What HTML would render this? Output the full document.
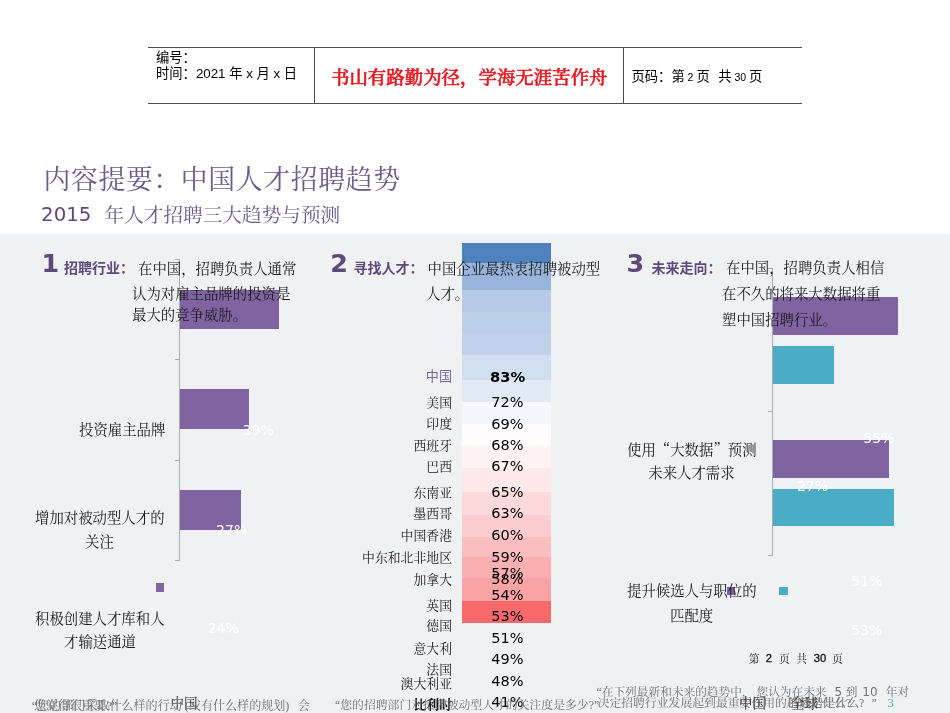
<!DOCTYPE html>
<html lang="zh-CN">
<head>
<meta charset="utf-8">
<title>内容提要：中国人才招聘趋势</title>
<style>
html,body{margin:0;padding:0;background:#fff;}
body{width:950px;height:713px;position:relative;overflow:hidden;
  font-family:"Liberation Sans","Noto Sans CJK SC",sans-serif;color:#000;}
.a{position:absolute;white-space:nowrap;line-height:1;}
.serif{font-family:"Liberation Serif","Noto Serif CJK SC",serif;}
.sans{font-family:"Liberation Sans","Noto Sans CJK SC",sans-serif;}
.dv{font-family:"DejaVu Sans","Noto Sans CJK SC",sans-serif;}
.pur{color:#5f497a;}
.hl{background:#4d4d4d;height:1px;}
.vl{background:#4d4d4d;width:1px;}
#bg{left:0;top:232px;width:950px;height:481px;background:linear-gradient(#fff 0,#f0f1f3 4px);}
.bar{position:absolute;background:#8064a2;}
.teal{background:#4bacc6;}
.ax{position:absolute;background:#adadad;}
.lab{font-size:14.4px;color:#1a1a1a;}
.pct{font-size:14.1px;color:#fff;}
.num{font-size:14.5px;color:#000;}
.cty{font-size:12.85px;color:#222;text-align:right;width:120px;left:332px;}
.cjq{font-family:"Noto Serif CJK SC",serif;}
.pg{top:653.5px;font-size:10.8px;color:#222;}
.pgn{top:652.6px;font-size:11.2px;color:#111;-webkit-text-stroke:0.3px #111;}
.foot{font-size:11.3px;color:#707070;}
</style>
</head>
<body>
<!-- header table -->
<div class="a hl" style="left:148px;top:47px;width:654px;"></div>
<div class="a hl" style="left:148px;top:103px;width:654px;"></div>
<div class="a vl" style="left:314px;top:47px;height:57px;"></div>
<div class="a vl" style="left:623px;top:47px;height:57px;"></div>
<div class="a sans" style="left:156px;top:50px;font-size:13.3px;line-height:16px;">编号：</div>
<div class="a sans" style="left:156px;top:66px;font-size:13.3px;line-height:16px;">时间：2021 年 x 月 x 日</div>
<div class="a serif" style="left:331px;top:69px;font-size:18.45px;font-weight:500;-webkit-text-stroke:0.55px #e8141c;color:#e8141c;">书山有路勤为径，学海无涯苦作舟</div>
<div class="a sans" style="left:631.5px;top:70px;font-size:13.3px;">页码：第<span style="font-size:10.5px;"> 2 </span>页<span style="margin-left:8.5px"></span>共<span style="font-size:10.5px;"> 30 </span>页</div>

<!-- title -->
<div class="a serif pur" style="left:43.4px;top:167.3px;font-size:26.8px;letter-spacing:0.7px;color:#6b5a8a;">内容提要：中国人才招聘趋势</div>
<div class="a dv" style="left:41.1px;top:204.5px;font-size:19.8px;color:#5f497a;">2015</div>
<div class="a serif" style="left:104.5px;top:205.5px;font-size:19.65px;color:#6b5a8a;">年人才招聘三大趋势与预测</div>

<div class="a" id="bg"></div>

<!-- ===== section 1 ===== -->
<div class="ax" style="left:179.4px;top:259px;width:1px;height:301px;"></div>
<div class="ax" style="left:175px;top:259px;width:5px;height:1px;"></div>
<div class="ax" style="left:175px;top:358.5px;width:5px;height:1px;"></div>
<div class="ax" style="left:175px;top:459.5px;width:5px;height:1px;"></div>
<div class="ax" style="left:175px;top:559.5px;width:5px;height:1px;"></div>
<div class="bar" style="left:180px;top:289.5px;width:99.3px;height:39px;"></div>
<div class="bar" style="left:180px;top:389px;width:68.7px;height:40px;"></div>
<div class="bar" style="left:180px;top:489.5px;width:61px;height:40.5px;"></div>

<div class="a dv pur" style="left:41.5px;top:250.8px;font-size:25.4px;font-weight:bold;">1</div>
<div class="a sans pur" style="left:64px;top:260.8px;font-size:14px;font-weight:bold;">招聘行业：</div>
<div class="a serif lab" style="left:138px;top:261.5px;">在中国，招聘负责人通常</div>
<div class="a serif lab" style="left:132px;top:287px;">认为对雇主品牌的投资是</div>
<div class="a serif lab" style="left:132px;top:307.5px;">最大的竞争威胁。</div>

<div class="a serif lab" style="left:79px;top:423px;">投资雇主品牌</div>
<div class="a dv pct" style="left:242.5px;top:422.6px;">39%</div>
<div class="a serif lab" style="left:35px;top:510.7px;">增加对被动型人才的</div>
<div class="a serif lab" style="left:85px;top:535px;">关注</div>
<div class="a dv pct" style="left:216px;top:522.7px;">27%</div>
<div class="bar" style="left:155.6px;top:583.3px;width:8.8px;height:8.8px;"></div>
<div class="a serif lab" style="left:35px;top:612px;">积极创建人才库和人</div>
<div class="a serif lab" style="left:64px;top:635px;">才输送通道</div>
<div class="a dv pct" style="left:207.5px;top:621px;">24%</div>
<div class="a serif" style="left:170.5px;top:696.8px;font-size:13.5px;color:#333;">中国</div>
<div class="a serif foot" id="f1" style="left:31.7px;top:700.1px;font-size:12.07px;">“您的部门采取什么样的行动 (或有什么样的规划)<span style="margin-left:8.5px">会</span></div>
<div class="a serif foot" id="f1b" style="left:34px;top:700.1px;font-size:12.07px;">您觉得很重要?”</div>

<!-- ===== section 2 ===== -->
<div id="heat">
<div class="a" style="left:462.2px;top:243px;width:89.3px;height:20.5px;background:#4f81bd;"></div>
<div class="a" style="left:462.2px;top:263.2px;width:89.3px;height:26.6px;background:#98b4da;"></div>
<div class="a" style="left:462.2px;top:289.5px;width:89.3px;height:22.5px;background:#b7cbe6;"></div>
<div class="a" style="left:462.2px;top:311.7px;width:89.3px;height:21.7px;background:#bccfe8;"></div>
<div class="a" style="left:462.2px;top:333.1px;width:89.3px;height:21.8px;background:#c0d2ea;"></div>
<div class="a" style="left:462.2px;top:354.6px;width:89.3px;height:26.0px;background:#d0dff0;"></div>
<div class="a" style="left:462.2px;top:380.3px;width:89.3px;height:22.1px;background:#e1e9f5;"></div>
<div class="a" style="left:462.2px;top:402.1px;width:89.3px;height:22.2px;background:#f6f7fc;"></div>
<div class="a" style="left:462.2px;top:424px;width:89.3px;height:22.2px;background:#fefcfd;"></div>
<div class="a" style="left:462.2px;top:445.9px;width:89.3px;height:22.2px;background:#fef2f3;"></div>
<div class="a" style="left:462.2px;top:467.8px;width:89.3px;height:24.7px;background:#fde9ea;"></div>
<div class="a" style="left:462.2px;top:492.2px;width:89.3px;height:22.6px;background:#fcd9db;"></div>
<div class="a" style="left:462.2px;top:514.5px;width:89.3px;height:22.3px;background:#fbcdcf;"></div>
<div class="a" style="left:462.2px;top:536.5px;width:89.3px;height:20.6px;background:#fabec0;"></div>
<div class="a" style="left:462.2px;top:556.8px;width:89.3px;height:21.5px;background:#faafb1;"></div>
<div class="a" style="left:462.2px;top:578px;width:89.3px;height:23.3px;background:#f9a3a5;"></div>
<div class="a" style="left:462.2px;top:601px;width:89.3px;height:21.9px;background:#f8696b;"></div>
</div>

<div class="a dv pur" style="left:330.3px;top:250.8px;font-size:25.4px;font-weight:bold;">2</div>
<div class="a sans pur" style="left:353.5px;top:260.8px;font-size:14px;font-weight:bold;">寻找人才：</div>
<div class="a serif lab" style="left:427.5px;top:261.5px;">中国企业最热衷招聘被动型</div>
<div class="a serif lab" style="left:426px;top:287px;">人才。</div>

<div class="a sans cty" style="top:369.9px;color:#7d669e;font-size:13.1px;">中国</div>
<div class="a serif cty" style="top:396.7px;">美国</div>
<div class="a serif cty" style="top:418.0px;">印度</div>
<div class="a serif cty" style="top:439.7px;">西班牙</div>
<div class="a serif cty" style="top:460.9px;">巴西</div>
<div class="a serif cty" style="top:487.3px;">东南亚</div>
<div class="a serif cty" style="top:508.3px;">墨西哥</div>
<div class="a serif cty" style="top:530.4px;">中国香港</div>
<div class="a serif cty" style="top:552.3px;">中东和北非地区</div>
<div class="a serif cty" style="top:573.5px;">加拿大</div>
<div class="a serif cty" style="top:599.8px;">英国</div>
<div class="a serif cty" style="top:620.1px;">德国</div>
<div class="a serif cty" style="top:643.1px;">意大利</div>
<div class="a serif cty" style="top:663.6px;">法国</div>
<div class="a serif cty" style="top:677.6px;">澳大利亚</div>
<div class="a serif cty" style="top:698.9px;font-weight:bold;color:#111;">比利时</div>

<div class="a dv num" style="left:490px;top:370.2px;font-weight:bold;font-size:14.7px;">83%</div>
<div class="a dv num" style="left:491.2px;top:395.2px;">72%</div>
<div class="a dv num" style="left:491.2px;top:416.6px;">69%</div>
<div class="a dv num" style="left:491.2px;top:438.2px;">68%</div>
<div class="a dv num" style="left:491.2px;top:459.2px;">67%</div>
<div class="a dv num" style="left:491.2px;top:485.4px;">65%</div>
<div class="a dv num" style="left:491.2px;top:506.4px;">63%</div>
<div class="a dv num" style="left:491.2px;top:528.0px;">60%</div>
<div class="a dv num" style="left:491.2px;top:549.5px;">59%</div>
<div class="a dv num" style="left:491.2px;top:566.0px;">57%</div>
<div class="a dv num" style="left:491.2px;top:571.6px;">58%</div>
<div class="a dv num" style="left:491.2px;top:587.5px;">54%</div>
<div class="a dv num" style="left:491.2px;top:609.2px;">53%</div>
<div class="a dv num" style="left:491.2px;top:630.8px;">51%</div>
<div class="a dv num" style="left:491.2px;top:652.2px;">49%</div>
<div class="a dv num" style="left:491.2px;top:673.9px;">48%</div>
<div class="a dv num" style="left:491.2px;top:695.4px;">41%</div>
<div class="a serif foot" id="f2" style="left:335px;top:700.1px;font-size:11.83px;">“您的招聘部门对招聘被动型人才的关注度是多少?”</div>

<!-- ===== section 3 ===== -->
<div class="ax" style="left:772px;top:267.5px;width:1px;height:288.5px;"></div>
<div class="ax" style="left:767.5px;top:267.5px;width:5px;height:1px;"></div>
<div class="ax" style="left:767.5px;top:410.8px;width:5px;height:1px;"></div>
<div class="ax" style="left:767.5px;top:555px;width:5px;height:1px;"></div>
<div class="bar" style="left:772.7px;top:296.6px;width:125.5px;height:38px;"></div>
<div class="bar teal" style="left:772.7px;top:346px;width:61.6px;height:37.7px;"></div>
<div class="bar" style="left:772.7px;top:440.1px;width:116.3px;height:37.5px;"></div>
<div class="bar teal" style="left:772.7px;top:488.9px;width:121px;height:37.5px;"></div>

<div class="a dv pur" style="left:626.5px;top:250.8px;font-size:25.4px;font-weight:bold;">3</div>
<div class="a sans pur" style="left:651.5px;top:260.8px;font-size:14px;font-weight:bold;">未来走向：</div>
<div class="a serif lab" style="left:726px;top:261.3px;">在中国，招聘负责人相信</div>
<div class="a serif lab" style="left:722px;top:286.5px;">在不久的将来大数据将重</div>
<div class="a serif lab" style="left:722px;top:312.6px;">塑中国招聘行业。</div>

<div class="a serif lab" style="left:627px;top:441.5px;">使用<span class="cjq">“</span>大数据<span class="cjq">”</span>预测</div>
<div class="a serif lab" style="left:648.3px;top:466px;">未来人才需求</div>
<div class="a dv pct" style="left:863.2px;top:430.5px;">55%</div>
<div class="a dv pct" style="left:796.9px;top:479.3px;">27%</div>
<div class="bar" style="left:726.6px;top:586.8px;width:8.5px;height:8.4px;"></div>
<div class="a serif lab" style="left:627px;top:584.4px;">提升候选人与职位的</div>
<div class="a serif lab" style="left:670px;top:609.2px;">匹配度</div>
<div class="bar teal" style="left:779.1px;top:586.8px;width:8.7px;height:8.5px;"></div>
<div class="a dv pct" style="left:851px;top:574.3px;">51%</div>
<div class="a dv pct" style="left:851px;top:622.5px;">53%</div>
<div class="a serif pg" style="left:748.7px;">第</div><div class="a sans pgn" style="left:765.8px;">2</div><div class="a serif pg" style="left:779px;">页</div><div class="a serif pg" style="left:796.2px;">共</div><div class="a sans pgn" style="left:813.8px;">30</div><div class="a serif pg" style="left:832px;">页</div>
<div class="a serif foot" id="f3" style="left:596.6px;top:686px;font-size:11.68px;">“在下列最新和未来的趋势中，<span style="margin-left:3px"></span>您认为在未来<span class="dv" style="font-size:12px;margin:0 3.5px 0 8px;">5</span>到<span class="dv" style="font-size:12px;margin:0 8px 0 5px;">10</span>年对</div>
<div class="a serif foot" id="f4" style="left:597.6px;top:698.3px;font-size:11.84px;">决定招聘行业发展起到最重要作用的趋势是什么?</div>
<div class="a serif foot" id="f4b" style="left:788px;top:698.3px;font-size:11.84px;">的趋势是什么?</div>
<div class="a serif foot" id="f4c" style="left:871.5px;top:698.3px;font-size:11.84px;">”</div>
<div class="a serif" style="left:887.5px;top:697.3px;font-size:12.6px;color:#4bacc6;">3</div>
<div class="a serif" style="left:739px;top:696.8px;font-size:13.5px;color:#333;">中国</div>
<div class="a serif" style="left:791px;top:696.8px;font-size:13.5px;color:#333;">全球</div>
</body>
</html>
